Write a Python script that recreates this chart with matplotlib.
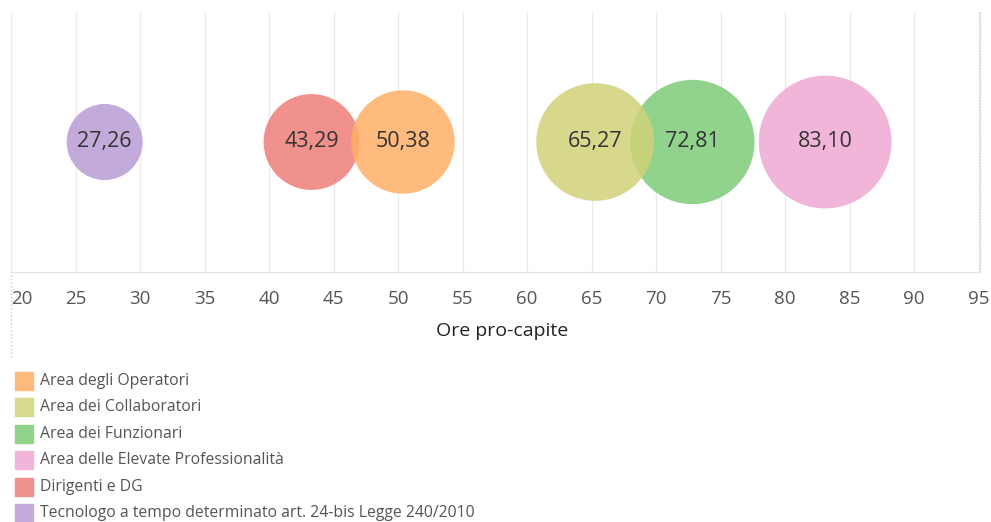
import matplotlib
matplotlib.use("Agg")
import matplotlib.pyplot as plt
from matplotlib.patches import Rectangle
from matplotlib.lines import Line2D

# dati
categorie = ["Area degli Operatori", "Area dei Collaboratori", "Area dei Funzionari",
             "Area delle Elevate Professionalità", "Dirigenti e DG",
             "Tecnologo a tempo determinato art. 24-bis Legge 240/2010"]
ore = [50.38, 65.27, 72.81, 83.10, 43.29, 27.26]
colori = ["#FFAF67", "#D0D278", "#7ECA78", "#EEA8D2", "#EF7E79", "#B89CD5"]
colori_legenda = ["#FFBB7E", "#D7D98C", "#91D28C", "#F1B5D9", "#F1918D", "#C3ABDB"]
xticks = list(range(20, 100, 5))

plt.rcParams['font.family'] = ['Open Sans', 'DejaVu Sans']

fig = plt.figure(figsize=(9.91, 5.22), dpi=100)
ax = fig.add_axes([11/991, 1 - 272/522, 969/991, 260/522])

# disegno in ordine inverso: arancio sopra rosso, giallo sopra verde
for i in reversed(range(len(ore))):
    ax.scatter(ore[i], 0, s=110 * ore[i], color=colori[i], alpha=0.85,
               edgecolors='none', zorder=3)
    ax.text(ore[i], 0, f"{ore[i]:.2f}".replace(".", ","), ha='center', va='center',
            fontsize=15.5, color='#333333', zorder=4)

ax.set_xlim(20, 95.1)
ax.set_ylim(-1, 1)
ax.set_yticks([])
ax.set_xticks(xticks)
ax.set_xticklabels([str(t) for t in xticks], fontsize=13.5, color='#555555')
ax.get_xticklabels()[0].set_horizontalalignment('left')
ax.tick_params(axis='x', length=0, pad=13)
ax.grid(axis='x', color='#EBEBEB', lw=1)
ax.set_axisbelow(True)
for s in ['top', 'left']:
    ax.spines[s].set_visible(False)
ax.spines['bottom'].set_color('#E3E3E3')
ax.spines['right'].set_color('#D0D0D0')
ax.spines['right'].set_linestyle(':')

# linea tratteggiata a sinistra sotto l'asse
fig.add_artist(Line2D([11/991, 11/991], [1 - 357/522, 1 - 272/522],
                      color='#C8C8C8', lw=1, ls=':'))

fig.text(502/991, 1 - 331/522, "Ore pro-capite", ha='center', va='center',
         fontsize=14, color='#222222')

# legenda
for i, (cat, col) in enumerate(zip(categorie, colori_legenda)):
    yc = 381 + i * 26.4
    fig.add_artist(Rectangle((15/991, 1 - (yc + 9)/522), 18/991, 18/522,
                             color=col, transform=fig.transFigure))
    fig.text(40/991, 1 - yc/522, cat, ha='left', va='center', fontsize=11.3,
             color='#555555')

fig.savefig("out.png", dpi=100)
